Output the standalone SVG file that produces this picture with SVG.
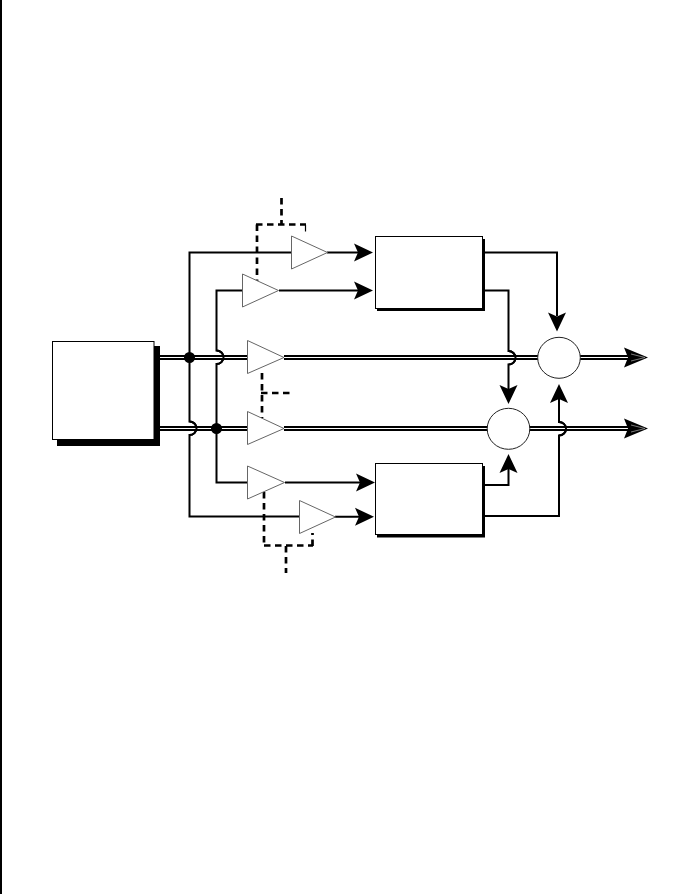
<svg xmlns="http://www.w3.org/2000/svg" width="679" height="894" viewBox="0 0 679 894">
<style>
.w{fill:none;stroke:#000;stroke-width:2}
.d{fill:none;stroke:#000;stroke-width:2.700;stroke-dasharray:6.500 4.500}
.bus{fill:none;stroke:#000;stroke-width:5}
.core{fill:none;stroke:#fff;stroke-width:1.200}
.box{fill:#fff;stroke:#000;stroke-width:1}
.sh{fill:#000}
.tri{fill:#fff;stroke:#666;stroke-width:1}
.c{fill:#fff;stroke:#222;stroke-width:1}
</style>
<defs>
<path id="ah" d="M0 0L-19 -9L-15 0L-19 9Z" fill="#000"/>
<g id="out"><path d="M0 0L-24 -10L-20 0L-24 10Z" fill="#000"/><path d="M-3 0L-17 -3.500M-3 0L-17 3.500" stroke="#999" stroke-width="0.800" fill="none"/></g>
</defs>
<rect x="0" y="0" width="2" height="894" fill="#000"/>
<g id="connectors">
<path class="w" d="M291 252.500H189.500V421.500a7 6.800 0 0 1 0 13.600V516.500H299"/>
<path class="w" d="M242 290.500H216.500V350.500a7 6.800 0 0 1 0 13.600V482.500H247"/>
<path class="w" d="M327 252.500H358M279 290.500H358M285 482.500H360M335 516.800H359"/>
<path class="w" d="M484 252.500H557V316"/>
<path class="w" d="M484 290.500H508.500V351a7 6.800 0 0 1 0 13.600V389"/>
<path class="w" d="M484 485H508.500V469"/>
<path class="w" d="M484 516H559V435.500a7 6.800 0 0 0 0 -13.600V398"/>
<path class="bus" d="M160 357.500H248M284 357.500H538M580 357.500H628M160 428.500H248M284 428.500H488M529 428.500H628"/>
<path class="core" d="M160 357.500H248M284 357.500H538M580 357.500H630M160 428.500H248M284 428.500H488M529 428.500H630"/>
<path class="w" d="M216.500 350.500a7 6.800 0 0 1 0 13.600M189.500 421.500a7 6.800 0 0 1 0 13.600M508.500 351a7 6.800 0 0 1 0 13.600M559 435.500a7 6.800 0 0 0 0 -13.600"/>
<path class="d" d="M281.500 198V224"/>
<path class="d" d="M257 224.500V281"/>
<path class="d" d="M256 224.500H306"/>
<path class="d" d="M305.500 225V236" style="stroke-width:1.200"/>
<path class="d" d="M262 373V418"/>
<path class="d" d="M261 393H290"/>
<path class="d" d="M264 492V546"/>
<path class="d" d="M264 545.500H313"/>
<path class="d" d="M312.500 546V533"/>
<path class="d" d="M286 546V573"/>
<use href="#ah" transform="translate(373 252.500)"/>
<use href="#ah" transform="translate(373 290.500)"/>
<use href="#ah" transform="translate(375 482.500)"/>
<use href="#ah" transform="translate(374 516.800)"/>
<use href="#ah" transform="translate(557 331.500) rotate(90)"/>
<use href="#ah" transform="translate(508.500 404) rotate(90)"/>
<use href="#ah" transform="translate(508.500 454) rotate(-90)"/>
<use href="#ah" transform="translate(559 384) rotate(-90)"/>
<use href="#out" transform="translate(648 357.500)"/>
<use href="#out" transform="translate(648 428.500)"/>
<circle cx="189.500" cy="357.500" r="5.500" fill="#000"/>
<circle cx="216.500" cy="428.500" r="5.500" fill="#000"/>
</g>
<g id="source"><rect class="sh" x="57" y="346" width="103" height="100"/><rect class="box" x="52.500" y="341.500" width="101.500" height="98"/></g>
<g id="mixer-a"><rect class="sh" x="377" y="239" width="108" height="72"/><rect class="box" x="375.500" y="236.500" width="107" height="72"/></g>
<g id="mixer-b"><rect class="sh" x="377" y="466" width="108" height="71.500"/><rect class="box" x="375.500" y="463.500" width="107" height="71"/></g>
<g id="amp-1"><path class="tri" d="M291.500 236V269L327.500 252.500Z"/></g>
<g id="amp-2"><path class="tri" d="M242.500 274V307L278.500 290.500Z"/></g>
<g id="amp-3"><path class="tri" d="M247.500 340.500V373.500L284 357.500Z"/></g>
<g id="amp-4"><path class="tri" d="M247.500 411.500V444.500L284 428.500Z"/></g>
<g id="amp-5"><path class="tri" d="M247.500 466V499L284.500 482.500Z"/></g>
<g id="amp-6"><path class="tri" d="M299.500 500.500V533.500L335.500 517Z"/></g>
<g id="sum-1"><ellipse class="c" cx="559" cy="357.800" rx="21.300" ry="20.500"/></g>
<g id="sum-2"><ellipse class="c" cx="508.500" cy="428.800" rx="21.300" ry="20.500"/></g>
</svg>
